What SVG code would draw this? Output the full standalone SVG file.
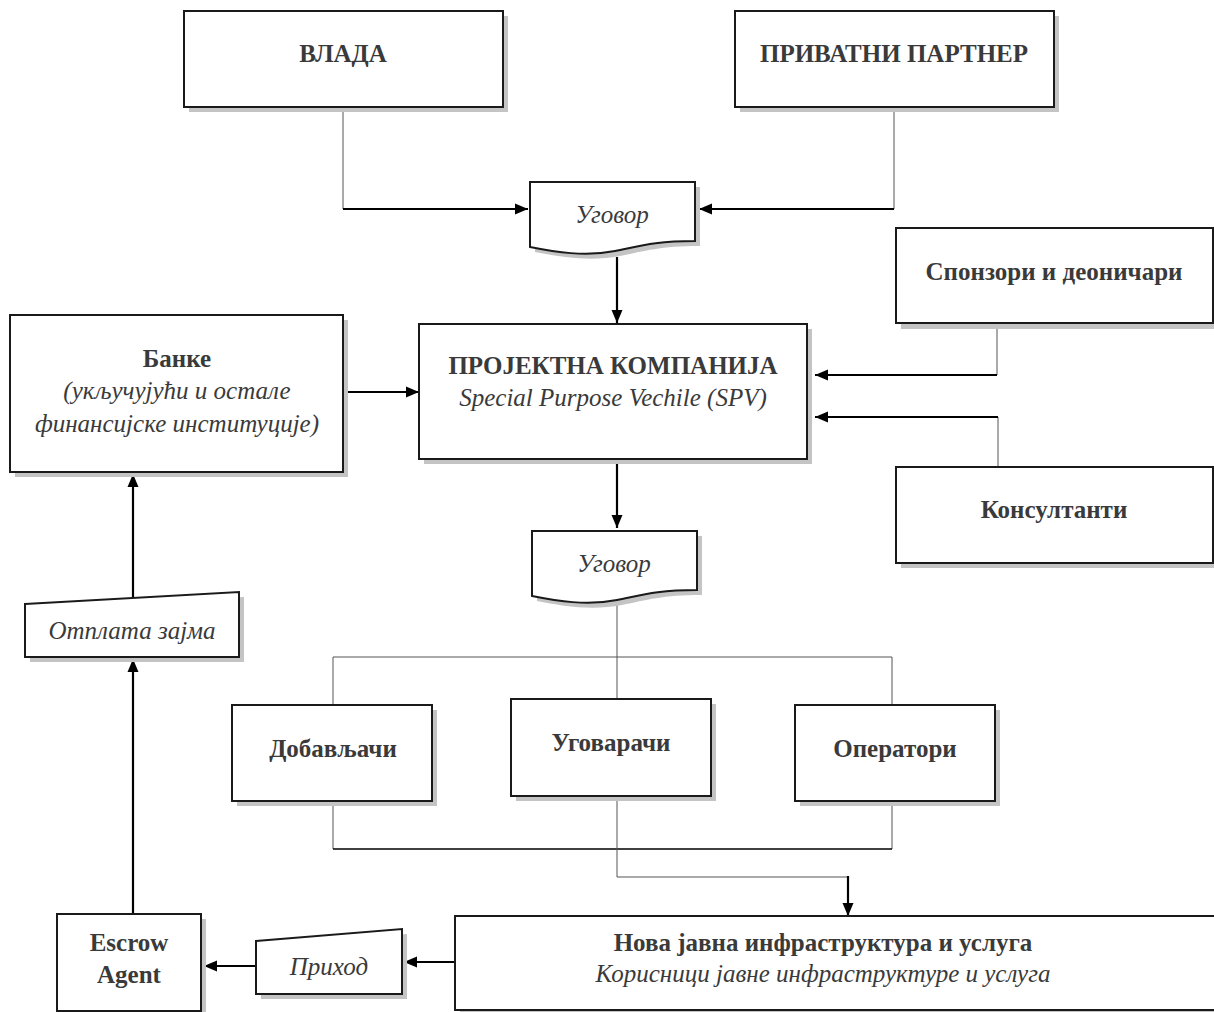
<svg xmlns="http://www.w3.org/2000/svg" width="1214" height="1012" viewBox="0 0 1214 1012">
  <style>
    .box { fill: #ffffff; stroke: #1a1a1a; stroke-width: 2; }
    .shadow { fill: #c4c4c4; stroke: none; }
    .t { font-family: "Liberation Serif", "Times New Roman", serif; fill: #3a3a3a; text-anchor: middle; }
    .b { font-weight: bold; font-size: 25px; }
    .i { font-style: italic; font-size: 25px; }
    .thin { fill: none; stroke: #555555; stroke-width: 1; }
    .thick { fill: none; stroke: #000000; stroke-width: 2.2; }
  </style>
  <defs>
    <marker id="arrow" markerUnits="userSpaceOnUse" markerWidth="14" markerHeight="12" refX="13" refY="6" orient="auto">
      <path d="M0,0.5 L13,6 L0,11.5 Z" fill="#000000"/>
    </marker>
    <path id="docShape" d="M0,0 H165 V59 C125,59 110,64 85,69 C55,75 25,70 0,65 Z"/>
  </defs>

  <rect width="1214" height="1012" fill="#ffffff"/>

  <!-- connectors -->
  <g id="connectors">
    <path class="thin" d="M343,107 V209"/>
    <path class="thick" d="M343,209 H528" marker-end="url(#arrow)"/>
    <path class="thin" d="M894,107 V209"/>
    <path class="thick" d="M894,209 H699" marker-end="url(#arrow)"/>
    <path class="thick" d="M617,257 V323" marker-end="url(#arrow)"/>
    <path class="thin" d="M997,323 V375"/>
    <path class="thick" d="M997,375 H815" marker-end="url(#arrow)"/>
    <path class="thin" d="M998,467 V417"/>
    <path class="thick" d="M998,417 H815" marker-end="url(#arrow)"/>
    <path class="thick" d="M343,392 H419" marker-end="url(#arrow)"/>
    <path class="thick" d="M617,459 V528" marker-end="url(#arrow)"/>
    <path class="thin" d="M617,603 V698"/>
    <path class="thin" d="M333,704 V657 H892 V704"/>
    <path class="thin" d="M333,800 V849"/>
    <path class="thin" d="M892,801 V849"/>
    <path class="thick" style="stroke-width:1.5" d="M333,849 H892"/>
    <path class="thin" d="M617,796 V877 H848"/>
    <path class="thick" d="M848,876 V916" marker-end="url(#arrow)"/>
    <path class="thick" d="M455,962 H404" marker-end="url(#arrow)"/>
    <path class="thick" d="M256,966 H204" marker-end="url(#arrow)"/>
    <path class="thick" d="M133,914 V659" marker-end="url(#arrow)"/>
    <path class="thick" d="M133,598 V474" marker-end="url(#arrow)"/>
  </g>

  <!-- government -->
  <g id="vlada">
    <rect class="shadow" x="189" y="16" width="319" height="96"/>
    <rect class="box" x="184" y="11" width="319" height="96"/>
    <text class="t b" x="343" y="62">ВЛАДА</text>
  </g>

  <!-- private partner -->
  <g id="privatni-partner">
    <rect class="shadow" x="740" y="16" width="319" height="96"/>
    <rect class="box" x="735" y="11" width="319" height="96"/>
    <text class="t b" x="894" y="62">ПРИВАТНИ ПАРТНЕР</text>
  </g>

  <!-- contract document (top) -->
  <g id="ugovor-1">
    <use href="#docShape" class="shadow" transform="translate(535,187)"/>
    <use href="#docShape" class="box" transform="translate(530,182)"/>
    <text class="t i" x="612" y="223">Уговор</text>
  </g>

  <!-- sponsors and shareholders -->
  <g id="sponzori">
    <rect class="shadow" x="901" y="233" width="317" height="96"/>
    <rect class="box" x="896" y="228" width="317" height="95"/>
    <text class="t b" x="1054" y="280">Спонзори и деоничари</text>
  </g>

  <!-- banks -->
  <g id="banke">
    <rect class="shadow" x="15" y="320" width="333" height="157"/>
    <rect class="box" x="10" y="315" width="333" height="157"/>
    <text class="t b" x="177" y="367">Банке</text>
    <text class="t i" x="177" y="399">(укључујући и остале</text>
    <text class="t i" x="177" y="432">финансијске институције)</text>
  </g>

  <!-- project company -->
  <g id="spv">
    <rect class="shadow" x="424" y="329" width="388" height="135"/>
    <rect class="box" x="419" y="324" width="388" height="135"/>
    <text class="t b" x="613" y="374">ПРОЈЕКТНА КОМПАНИЈА</text>
    <text class="t i" x="613" y="406">Special Purpose Vechile (SPV)</text>
  </g>

  <!-- consultants -->
  <g id="konsultanti">
    <rect class="shadow" x="901" y="472" width="317" height="96"/>
    <rect class="box" x="896" y="467" width="317" height="96"/>
    <text class="t b" x="1054" y="518">Консултанти</text>
  </g>

  <!-- contract document (middle) -->
  <g id="ugovor-2">
    <use href="#docShape" class="shadow" transform="translate(537,536)"/>
    <use href="#docShape" class="box" transform="translate(532,531)"/>
    <text class="t i" x="614" y="572">Уговор</text>
  </g>

  <!-- loan repayment -->
  <g id="otplata">
    <path class="shadow" d="M30,609 L244,597 V662 H30 Z"/>
    <path class="box" d="M25,604 L239,592 V657 H25 Z"/>
    <text class="t i" x="132" y="639">Отплата зајма</text>
  </g>

  <!-- suppliers -->
  <g id="dobavljaci">
    <rect class="shadow" x="237" y="710" width="200" height="96"/>
    <rect class="box" x="232" y="705" width="200" height="96"/>
    <text class="t b" x="333" y="757">Добављачи</text>
  </g>

  <!-- contractors -->
  <g id="ugovaraci">
    <rect class="shadow" x="516" y="704" width="200" height="97"/>
    <rect class="box" x="511" y="699" width="200" height="97"/>
    <text class="t b" x="611" y="751">Уговарачи</text>
  </g>

  <!-- operators -->
  <g id="operatori">
    <rect class="shadow" x="800" y="710" width="200" height="96"/>
    <rect class="box" x="795" y="705" width="200" height="96"/>
    <text class="t b" x="895" y="757">Оператори</text>
  </g>

  <!-- escrow agent -->
  <g id="escrow">
    <rect class="shadow" x="62" y="919" width="144" height="97"/>
    <rect class="box" x="57" y="914" width="144" height="97"/>
    <text class="t b" x="129" y="951">Escrow</text>
    <text class="t b" x="129" y="983">Agent</text>
  </g>

  <!-- revenue -->
  <g id="prihod">
    <path class="shadow" d="M261,946 L407,934 V999 H261 Z"/>
    <path class="box" d="M256,941 L402,929 V994 H256 Z"/>
    <text class="t i" x="329" y="975">Приход</text>
  </g>

  <!-- new public infrastructure -->
  <g id="infrastruktura">
    <rect class="shadow" x="460" y="921" width="770" height="100"/>
    <rect class="box" x="455" y="916" width="770" height="94"/>
    <text class="t b" x="823" y="951">Нова јавна инфраструктура и услуга</text>
    <text class="t i" x="823" y="982">Корисници јавне инфраструктуре и услуга</text>
  </g>
</svg>
